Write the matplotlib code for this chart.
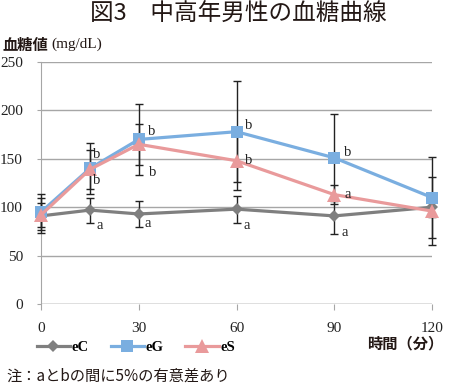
import matplotlib.pyplot as plt

plt.rcParams['font.family'] = ['Noto Sans CJK JP', 'DejaVu Sans']

# data (mg/dL) at each time point (min)
times = [0, 15, 30, 60, 90, 120]
eC = [91, 97, 93, 98, 91, 100]
eG = [95, 140, 170, 178, 151, 110]
eS = [92, 139, 165, 148, 113, 96]
eC_err = [18, 13, 13, 14, 19, 10]
eG_err = [19, 26, 37, 52, 45, 42]
eS_err = [12, 20, 21, 30, 10, 35]
yticks = [0, 50, 100, 150, 200, 250]
xticks = [0, 30, 60, 90, 120]

# significance letters: series, index of time, letter, offset in pixels
sig = [
    ('eG', 1, 'b', 7, 14), ('eS', 1, 'b', 7, -11), ('eC', 1, 'a', 10, -15),
    ('eG', 2, 'b', 13, 8), ('eS', 2, 'b', 14, -28), ('eC', 2, 'a', 9, -10),
    ('eG', 3, 'b', 12, 6), ('eS', 3, 'b', 12, 0), ('eC', 3, 'a', 10, -16),
    ('eG', 4, 'b', 13, 5), ('eS', 4, 'a', 13, 0), ('eC', 4, 'a', 10, -17),
]

series = {
    'eC': (eC, eC_err, '#7f7f7f', 'D', 6.5),
    'eG': (eG, eG_err, '#7aaee0', 's', 9),
    'eS': (eS, eS_err, '#e99a9b', '^', 10),
}

fig = plt.figure(figsize=(4.5, 3.85), dpi=100)
ax = fig.add_axes([41 / 450, 1 - 304 / 385, 391 / 450, 242 / 385])

for name, (vals, err, col, mk, ms) in series.items():
    ax.errorbar(times, vals, yerr=err, fmt='none', ecolor='#222222',
                elinewidth=1, capsize=3, capthick=1, zorder=3, clip_on=False)
for name, (vals, err, col, mk, ms) in series.items():
    ax.plot(times, vals, color=col, lw=2.3, marker=mk, ms=ms,
            markeredgewidth=0, zorder=4, clip_on=False, label=name)

serif = ['Liberation Serif', 'DejaVu Serif']
for name, i, letter, dx, dy in sig:
    ax.annotate(letter, (times[i], series[name][0][i]), xytext=(dx, dy),
                textcoords='offset pixels', ha='center', va='center',
                fontsize=10.5, family=serif, color='#222222', zorder=5)

ax.set_xlim(0, 120)
ax.set_ylim(0, 250)
ax.set_yticks(yticks)
ax.set_xticks(xticks)
ax.yaxis.grid(True, color='#a6a6a6', lw=1)
ax.set_axisbelow(True)
for s in ['top', 'right', 'bottom']:
    ax.spines[s].set_visible(False)
ax.spines['left'].set_color('#a6a6a6')
ax.axhline(0, color='#a6a6a6', lw=1, zorder=1)
ax.tick_params(axis='y', length=3, color='#a6a6a6', pad=10, labelsize=11)
ax.tick_params(axis='x', length=4, color='#a6a6a6', pad=9, labelsize=11)
for lab in ax.get_xticklabels() + ax.get_yticklabels():
    lab.set_family(serif)
    lab.set_color('#222222')

fig.text(0.53, 0.962, '図3　中高年男性の血糖曲線', ha='center', va='center',
         fontsize=17, color='#231815')
fig.text(0.006, 0.884, '血糖値', ha='left', va='center',
         fontsize=11, color='#231815', fontweight='bold')
fig.text(0.114, 0.884, '(mg/dL)', ha='left', va='center',
         fontsize=11, color='#231815', family=serif)
fig.text(0.985, 0.107, '時間（分）', ha='right', va='center',
         fontsize=11, color='#231815', fontweight='bold')
fig.text(0.014, 0.023, '注：aとbの間に5%の有意差あり', ha='left', va='center',
         fontsize=11, color='#231815')

ax.legend(loc='center left', bbox_to_anchor=(-0.045, -0.178),
          ncol=3, frameon=False, handlelength=2.3, handletextpad=0.1,
          columnspacing=1.5, prop={'family': serif, 'weight': 'bold', 'size': 10.5})

fig.savefig('out.png', dpi=100)
